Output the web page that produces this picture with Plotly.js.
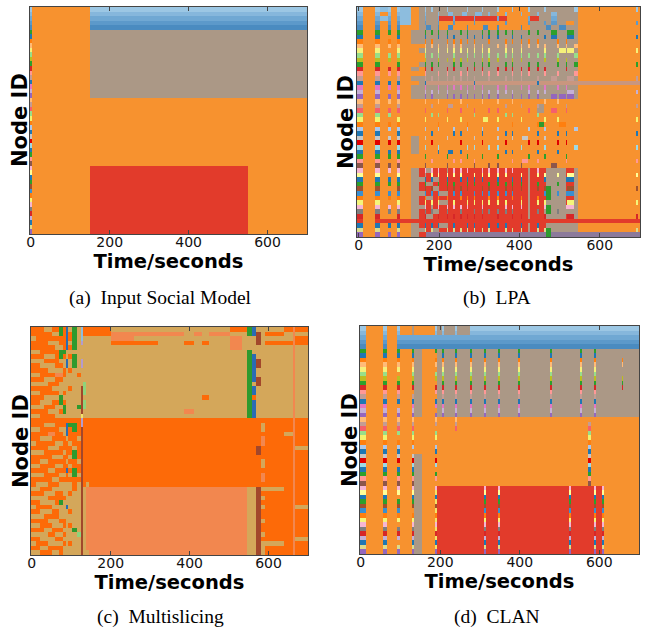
<!DOCTYPE html>
<html><head><meta charset="utf-8">
<script src="https://cdn.plot.ly/plotly-3.0.1.min.js"></script>
<style>html,body{margin:0;padding:0;background:#fff;} #chart{width:645px;height:629px;}</style>
</head><body><div id="chart"></div>
<script>
// community colours (character codes used in the row strings)
const communityColors = {O:'#F7922F', G:'#AB9886', R:'#E23B2B', B:'#C9967E', P:'#8C7A9B', L:'#8DBDDE',
  K:'#2E9A2E', T:'#D4A75A', F:'#FD6A08', M:'#F2874F', U:'#2B6CB3', N:'#A2472B', V:'#B59BCB', H:'#8ED37B', Y:'#F3E36A'};
// colour of a node when it forms its own community ('*' in the row strings)
const nodeColors = ['#9CC7E4','#86B7DC','#70A8D3','#5C99CA','#4A8BC0',
  '#2CA02C','#1F77B4','#FF7F0E','#FFBB78','#F5F07A','#98DF8A','#BCBD22','#2CA02C','#D62728','#FF9896','#C49C94','#1F77B4','#E377C2','#C5B0D5','#9467BD',
  '#FFBB78','#C49C94','#F4606C','#98DF8A','#F2F26E','#FF7F0E','#AEC7E8','#1F77B4','#C7C7C7','#E00000','#9EDAE5','#1F77B4','#2CA02C','#FF9896','#8C564B',
  '#F7B6D2','#FFFF99','#1F77B4','#2CA02C','#A0522D','#3A8FD0','#FF7F0E','#F5F57A','#F7B6D2','#7F7F7F','#D62728','#C5B0D5','#1F77B4','#DBDB8D','#9467BD'];
const nodeIds = [1,2,3,4,5,6,7,8,9,10,11,12,13,14,15,16,17,18,19,20,21,22,23,24,25,26,27,28,29,30,31,32,33,34,35,36,37,38,39,40,41,42,43,44,45,46,47,48,49,50];
const timeTicks = [0,200,400,600];

// (a) Input Social Model: time segment edges (s) and community per node per segment
const inputEdges = [-2,3,150,550,700];
const inputRows = [
 '*O**','*O**','*O**','*O**','*O**',
 '*OGG','*OGG','*OGG','*OGG','*OGG','*OGG','*OGG','*OGG','*OGG','*OGG','*OGG','*OGG','*OGG','*OGG','*OGG',
 '*OOO','*OOO','*OOO','*OOO','*OOO','*OOO','*OOO','*OOO','*OOO','*OOO','*OOO','*OOO','*OOO','*OOO','*OOO',
 '*ORO','*ORO','*ORO','*ORO','*ORO','*ORO','*ORO','*ORO','*ORO','*ORO','*ORO','*ORO','*ORO','*ORO','*ORO'];

// (b) LPA
const lpaEdges = [-4,10,42,54,72,80,96,104,130,150,
 164,168,180,184,197,201,219,223,235,239,
 252,256,269,273,286,290,306,310,323,327,
 344,348,364,368,381,385,403,407,422,426,
 444,448,461,465,479,494,498,515,519,537,546,
 690,695,700];
const lpaRows = [
 '*|O*L*O*LO|G*G*GGG*GG|GGG*GGG*GG|G*OOO*OOO*|GGG*GGGGGG*|O*O',
 '*|O*O*O*LO|G*GGG*GG*G|GG*GGG*GG*|GOO*OOO*OO|G*GGG*GGGGG|OOO',
 '*|O*L*O*LO|G*GGG*RRR*|RRRRR*RRRR|R*RROOOOO*|RRGGG*GGGGG|OOO',
 '*|O*O*O*LO|G*GGG*OOO*|OOOOO*OOOO|OOO*OOOOO*|GGG*G*GGOOG|O*O',
 '*|O*O*O*OO|GG*GG*OO*O|OOO*OOOO*O|O*OOOOO*OO|GGGG*GG*GGG|OOO',
 '*|O*O*O*OG|G*G*G*G*GG|G*G*GGG*G*|G*G*G*GGG*|G*GGG*GGG*G|OOO',
 '*|O*OOO*OG|G*GGG*G*G*|GGG*G*G*G*|G*GGG*G*GG|GGG*G*GGG*G|O*O',
 '*|O*O*O*OG|G*G*GGG*G*|G*G*G*GGG*|GGG*G*G*G*|G*GGGG*G*GG|OOO',
 '*|O*O*O*OO|O*G*G*G*G*|G*GGG*G*GG|G*G*GGG*G*|G*G*GG*G*G*|OOO',
 '*|O*OOO*OO|G*GGG*G*G*|G*G*G*G*G*|GGG*G*G*GG|GGG*GGG*G*G|O*O',
 '*|O*O*O*OO|O*G*G*GGG*|GGG*G*G*G*|G*G*G*G*G*|G*G*GG*GGG*|OOO',
 '*|O*O*O*OO|O*GGG*G*G*|G*G*GGG*G*|G*GGG*G*GG|GGG*GG*G*GG|OOO',
 '*|O*OOO*OO|G*G*G*GGG*|G*GGG*G*G*|GGG*G*GGG*|G*GGGG*G*G*|O*O',
 '*|O*O*O*OG|O*G*GGG*G*|GGG*G*G*GG|G*G*G*G*G*|G*G*GGGG*GG|OOO',
 '*|O*O*O*OO|O*GGG*G*GG|G*G*GGG*G*|G*GGG*G*G*|GGG*GG*GGG*|OOO',
 '*|O*OOO*OG|G*G*G*G*G*|G*G*G*GGG*|GGG*G*G*GG|G*GGG*GGG*G|O*O',
 '*|O*O*O*OO|G*BBBBBBBB|BBBBB*BBBB|BBBBBBBBBB|B*BBBBBBBBB|BBB',
 '*|O*O*O*OG|G*GGG*G*G*|G*G*G*G*GG|G*G*GGG*G*|GGG*GG*G*GG|OOO',
 '*|O*OOO*OG|G*G*G*G*GG|GGG*GGG*G*|G*G*G*GGG*|G*G*GGGGG*G|O*O',
 '*|O*O*O*OG|G*G*GGG*G*|G*G*G*G*G*|G*GGG*G*G*|G*GGG*G*G*G|OOO',
 '*|O*O*O*OO|O*OOO*OOOO|O*OOOOO*OO|O*OOO*OOOO|OOO*OO*OOOO|OOO',
 '*|O*OOO*OO|OOO*OOOO*O|OOO*OOOOOO|OOO*OOO*OO|O*GOOOOO*OO|O*O',
 '*|O*O*O*OO|O*OOOOO*OO|O*OOO*OOO*|O*OOOOOOO*|OGGOO*OO*OO|OOO',
 '*|O*O*OOOO|OOO*O*OOOO|OOOOO*OOOO|OOO*O*OOOO|O*OOOOOOOOO|OOO',
 '*|O*OOO*OO|O*OOOOO*OO|O*OOOOOO*O|O*OOOOO*OO|OOO*OO*OOOO|O*O',
 '*|O*O*O*OO|OOOOO*OOOO|OOO*OOOOOO|OOOOO*OOOO|O*KOOOO*OOO|OOO',
 '*|O*O*O*OO|O*OOO*OOO*|OOO*OOO*OO|O*OOOOOOO*|OOO*OOOOOO*|OOO',
 '*|O*OOO*OO|OOO*OOOOO*|O*OOOOO*OO|OOO*O*OOOO|O*OOOO*O*OO|O*O',
 '*|O*O*O*OG|O*OOOOO*OO|OOOOO*OOOO|O*OOO*OO*O|OOO*OOOOOOO|OOO',
 '*|O*O*O*OG|OOO*OOOOOO|O*OOOOO*OO|OOO*OOOOO*|O*OOOO*O*OO|OOO',
 '*|O*OOO*OG|O*OOO*OOOO|OOO*O*OOO*|O*OOOOO*OO|OOO*OOOOOO*|O*O',
 '*|O*O*O*OG|OOOOO*OO*O|O*OOOOOOOO|OOO*O*OOOO|O*OOOO*OOOO|OOO',
 '*|O*O*O*OO|O*OOOOO*OO|OOO*OOO*OO|O*OOOOOOO*|OOO*OOOO*OO|OOO',
 '*|O*OOO*OO|OOO*OOOOO*|O*OOO*OOOO|OOOOO*OO*O|O*OOOOOO*OO|O*O',
 '*|O*O*O*OO|O*OOOOO*OO|OOOOO*OOO*|O*OOOOO*OO|OOOOO*OOOOO|OOO',
 '*|O*O*O*OG|R*G*R*RGR*|R*R*RRR*R*|R*R*R*RRRG|R*RRGGGGRRG|OOO',
 '*|O*OOO*OG|RGR*R*R*R*|R*RRR*R*R*|R*R*RRR*RG|R*R*GG*GR*G|O*O',
 '*|O*O*O*OG|G*R*GGR*RR|R*R*R*R*RR|R*RRR*R*RG|RRR*GGGG**G|OOO',
 '*|O*O*O*OG|R*GGR*R*R*|RRR*R*RRR*|R*R*R*R*RG|R*RRGG*GRRG|OOO',
 '*|O*OOO*OG|R*R*GGR*R*|R*R*RRR*R*|RRR*R*R*RG|R*R*KGGGR*G|O*O',
 '*|O*O*O*OG|G*R*R*GGR*|R*RRR*R*R*|R*R*R*RRRG|RRR*KG*G**G|OOO',
 '*|O*O*O*OG|R*GGR*R*RR|R*R*R*RRR*|R*RRR*R*RG|R*RRKGGGRRG|OOO',
 '*|O*OOO*OG|R*R*R*GGR*|RRR*R*R*R*|R*R*RRR*RG|R*R*GGGGR*G|O*O',
 '*|O*O*O*OG|G*RGR*R*R*|R*R*RRR*RR|RRR*R*R*RG|RRR*KGGG**G|OOO',
 '*|O*O*O*OG|R*R*GGR*RR|R*RRR*R*R*|R*R*R*RRRG|R*RGKG*GGGG|OOO',
 '*|O*OOO*OG|R*GGR*R*R*|R*R*R*R*RR|R*RRR*R*RG|RRR*GGGGR*G|O*O',
 'R|ORRRRRRR|RRRRRRRRRR|RRRRRRRRRR|RRRRRRRRRR|RRRRRRRRRRR|RRR',
 '*|O*O*O*OG|R*R*R*GGR*|RRR*R*RRR*|R*R*RRR*RG|R*RRGGGGGGG|OOO',
 '*|O*OOO*OG|G*R*GGR*R*|R*R*R*R*R*|RRR*R*R*RG|R*R*KGGGGGG|O*O',
 '*|O*O*O*OG|RRPPPPPPPP|PPPPPPPPPP|PPPPPPPPPP|PPPPKPPPPPP|PPP'];

// (c) Multislicing
const msEdges = [-2,10,20,30,40,50,60,70,80,87,
 92,102,115,124,129,138,145,
 200,260,320,386,410,432,450,503,533,546,
 558,568,580,592,640,662,668,700];
const msRows = [
 'FFFTTFFKFU|TKTLFF|FTTTTTTTFF|KUTTTFMF',
 'FFFFFTTKFU|FKTLFF|FMMMTMTMTT|KUNTFTMT',
 'TFFFFFFFFU|FKTLTT|TMTTTTTTMT|TTNTTTMF',
 'FFFFTTTFFU|TKTVTT|TFFTFTFTMT|TTNTFFMF',
 'FFFFFFTTFU|FKTTTT|TTTTTTTTMT|TTTTTTMT',
 'TTFFFFFKKT|TTTTTT|TTTTTTTTTT|KTTTTTMT',
 'FFFTTTFKFT|FKTTTT|TTTTTTTTTT|KUTTTTMT',
 'TTTFFFFTTU|TKTVTT|TTTTTTTTTT|KUNTTTMT',
 'FFTTTTFFTU|TKTVTT|TTTTTTTTTT|KUNTTTMT',
 'FFFFTTTTFT|FTTTTT|TTTTTTTTTT|KUTTTTMT',
 'TTFFFFMMFT|TTFTTT|TTTTTTTTTT|KUTTTTMT',
 'FFFTTTFFTT|TTTTTT|TTTTTTTTTT|KUNTTTMT',
 'TTTTFFFTTT|TTTTHT|TTTTTTTTTT|KTNTTTMT',
 'FFFFFTTTTT|FTTNHT|TTTTTTTTTT|KUTTTTMT',
 'TTFFFFFTFT|TTTNHT|TTTTTTTTTT|KUTTTTMT',
 'FFFTTTTKTT|TTTNTT|TTTTTTFTTT|KFTTTTMT',
 'FFTTTFFKFT|TTTNHT|TTTTTTTTTT|KUTTTTMT',
 'TTTFFFTTKT|TTKNHT|TTTTTTTTTT|KUTTTTMT',
 'FFFFTTTFKT|TTTNTT|TTTTMTTTTT|KUTTTTMT',
 'TTFFFFTTTT|TTTYTT|TTTTTTTTTT|KUTTTTMT',
 'FFFFFFFFFF|FFFVFF|FFFFFFFFFF|FFFFFFMF',
 'FFFTTTFFFU|KKFVFF|FFFFFFFFFF|FFFTFFMF',
 'TTFFFFFTTU|FKFNFF|FFFFFFFFFF|FFFTFFMF',
 'FFFFMMFFTU|FFFNFF|FFFFFFFFFF|FFFFFTMF',
 'FFTTTFFFFT|FFTNFF|FFFFFFFFFF|FFFMFFMF',
 'TFFFFFTTFF|TFFNFF|FFFFFFFFFF|FFFMFFMF',
 'FFFFTTTFFF|FTFNFF|FFFFFFFFFF|FFNFFFMT',
 'TTTFFFFFTF|FKFNFF|FFFFFFFFFF|FFNFFFMF',
 'FFFFFTTTFF|TKFNFF|FFFFFFFFFF|FFFFFFMF',
 'FFTTFFFFFT|FFTNFF|FFFFFFFFFF|FFFTFFMF',
 'TTFFFFTTFF|TFFNFF|FFFFFFFFFF|FFFTFFMF',
 'FFFFTTFFFU|FKFNFF|FFFFFFFFFF|FFFFFFMF',
 'TTTFFFFTTF|TKTNFF|FFFFFFFFFF|FFFMFFMF',
 'FFFFFTTFFF|FFFNFF|FFFFFFFFFF|FFFMFFMF',
 'FTTTFFFTTT|TFTNFT|FFFFFFFFFF|FFFFFFMF',
 'TTFFFTTTTT|TFTNTM|MMMMMMMMMM|TTNTTFMF',
 'FFFTTTFFTT|FTTNTM|MMMMMMMMMM|TTNFFFMF',
 'TTTTFFFFFT|TTTNTM|MMMMMMMMMM|TTNTFFMF',
 'FFTTTTFKTT|TTTNTM|MMMMMMMMMM|TTNFFFMF',
 'TFFFFTTTTU|TTTNTM|MMMMMMMMMM|TTNTFFMT',
 'FFTTTFFTTT|FTTNTM|MMMMMMMMMM|TTNFFFMF',
 'TTTFFFFTTT|TTTNTM|MMMMMMMMMM|TTNFFFMF',
 'FFFFTTTFFT|TTTNTM|MMMMMMMMMM|TTNTFFMF',
 'TTFFFTTTFT|FTTNTM|MMMMMMMMMM|TTNFFFMF',
 'FFFTTFFFTT|TKTNTM|MMMMMMMMMM|TTNFFFMF',
 'TTTTFFTTFT|TTHNTM|MMMMMMMMMM|TTNTFFMF',
 'FFTTTTFFTT|TTTNTM|MMMMMMMMMM|TTNFFFMT',
 'TFFFTTTTFT|FTTNTM|MMMMMMMMMM|TTNTTFMF',
 'FFTTFFFFTT|TTTNTM|MMMMMMMMMM|TTNTFFMF',
 'TTFFFTTFTT|TTTNTT|MMMMMMMMMM|TTNTFFMF'];

// (d) CLAN
const clanEdges = [-2,12,57,66,91,98,128,133,153,187,192,
 205,210,238,243,276,281,309,314,346,351,
 396,401,476,481,524,530,552,557,572,578,
 586,591,607,612,656,660,700];
const clanRows = [
 '*|O*O*OGOO*|G*G*G*****|**********|*******',
 '*|O*O*OGOO*|G*G*G*****|**********|*******',
 '*|O*O******|**********|**********|*******',
 '*|O*O******|**********|**********|*******',
 '*|O*O******|**********|**********|*******',
 '*|O*O*O*GO*|G*G*G*G*G*|G*G*GGG*GG|G*GGGGG',
 '*|O*O*O*GOO|G*G*G*G*G*|G*G*GGG*GG|G*GGGGG',
 '*|O*O*O*GO*|G*G*G*G*G*|G*G*GGG*GG|G*GGG*G',
 '*|O*O*O*GO*|G*G*G*G*G*|G*G*GGG*GG|G*GGG*G',
 '*|O*O*O*GOO|G*G*G*G*G*|G*G*GGG*GG|G*GGGGG',
 '*|O*OOO*GO*|G*G*G*G*G*|G*G*GGG*GG|G*GGGGG',
 '*|O*O*O*GO*|G*G*G*G*G*|G*G*GGG*GG|G*GGG*G',
 '*|O*O*O*GOO|G*G*G*G*G*|G*G*GGG*GG|G*GGG*G',
 '*|O*O*O*GO*|G*G*G*G*G*|G*G*GGG*GG|G*GGG*G',
 '*|O*O*OOGO*|G*G*G*G*G*|G*G*GGG*GG|G*GGGGG',
 '*|O*O*O*GOO|G*G*G*G*G*|G*G*GGG*GG|G*GGGGG',
 '*|O*O*O*GO*|G*G*G*G*G*|G*G*GGG*GG|G*GGGGG',
 '*|O*OOO*GO*|G*G*G*G*G*|G*G*GGG*GG|G*GGGGG',
 '*|O*O*O*GOO|G*G*G*G*G*|G*G*GGG*GG|G*GGGGG',
 '*|O*O*O*GO*|G*G*G*G*G*|G*G*GGG*GG|G*GGGGG',
 '*|O*O*O*OO*|OOO*OOOOOO|OOOOOOOOOO|OOOOOOO',
 '*|O*O*O*OO*|OOO*OOOOOO|OOOOOOOOO*|OOOOOOO',
 '*|O*O*O*OOO|OOO*OOOOOO|OOOOOOOOO*|OOOOOOO',
 '*|O*O*O*OO*|OOOOOOOOOO|OOOOOOOOO*|OOOOOOO',
 '*|O*OOO*OO*|OOOOOOOOOO|OOOOOOOOO*|OOOOOOO',
 '*|O*O*O*OOO|OOOOOOOOOO|OOOOOOOOO*|OOOOOOO',
 '*|O*O*O*OO*|OOOOOOOOOO|OOOOOOOOO*|OOOOOOO',
 '*|O*O*OOOO*|OOOOOOOOOO|OOOOOOOOO*|OOOOOOO',
 '*|O*O*O*GOO|OOOOOOOOOO|OOOOOOOOO*|OOOOOOO',
 '*|O*O*O*GO*|OOOOOOOOOO|OOOOOOOOO*|OOOOOOO',
 '*|O*OOO*GO*|OOOOOOOOOO|OOOOOOOOO*|OOOOOOO',
 '*|O*O*O*GOO|OOOOOOOOOO|OOOOOOOOO*|OOOOOOO',
 '*|O*O*O*GO*|OOOOOOOOOO|OOOOOOOOO*|OOOOOOO',
 '*|O*O*O*GO*|OOOOOOOOOO|OOOOOOOOO*|OOOOOOO',
 '*|O*O*O*GOO|OOOOOOOOOO|OOOOOOOOO*|OOOOOOO',
 '*|O*O*O*GO*|RRRRRRR*R*|RRRRR*RRRR|R*R*OOO',
 '*|O*O*O*GOY|RRRRRRR*R*|RRRRR*RRRR|R*R*OOO',
 '*|O*OOO*GO*|RRRRRRR*R*|RRRRR*RRRR|R*R*OOO',
 '*|O*O*O*GOY|RRRRRRR*R*|RRRRR*RRRR|R*R*OOO',
 '*|O*O*O*GO*|RRRRRRR*R*|RRRRR*RRRR|R*R*OOO',
 '*|O*O*OOGOY|RRRRRRR*R*|RRRRR*RRRR|R*R*OOO',
 '*|O*O*O*GO*|RRRRRRR*R*|RRRRR*RRRR|R*R*OOO',
 '*|O*O*O*GOY|RRRRRRR*R*|RRRRR*RRRR|R*R*OOO',
 '*|O*OOO*GO*|RRRRRRR*R*|RRRRR*RRRR|R*R*OOO',
 '*|O*O*O*GOY|RRRRRRR*R*|RRRRR*RRRR|R*R*OOO',
 '*|O*O*O*GO*|RRRRRRR*R*|RRRRR*RRRR|R*R*OOO',
 '*|O*O*O*GOY|RRRRRRR*R*|RRRRR*RRRR|R*R*OOO',
 '*|O*OOO*GO*|RRRRRRR*R*|RRRRR*RRRR|R*R*OOO',
 '*|O*O*O*GOY|RRRRRRR*R*|RRRRR*RRRR|R*R*OOO',
 '*|O*O*O*GO*|RRRRRRR*R*|RRRRR*RRRR|R*R*OOO'];

const captions = ['(a)\u00a0 Input Social Model', '(b)\u00a0 LPA', '(c)\u00a0 Multislicing', '(d)\u00a0 CLAN'];

// ---- build ----
const codes = Object.keys(communityColors);
const allColors = codes.map(k => communityColors[k]).concat(nodeColors);
const nC = allColors.length;
const colorscale = [];
allColors.forEach((c, i) => { colorscale.push([i / nC, c]); colorscale.push([(i + 1) / nC, c]); });

function toZ(rows, edges) {
  const nseg = edges.length - 1;
  return rows.map((r, ri) => {
    const s = r.replace(/\|/g, '');
    if (s.length !== nseg) throw new Error('row ' + ri + ' has ' + s.length + ' segments, expected ' + nseg);
    return s.split('').map(ch => {
      const k = ch === '*' ? codes.length + ri : codes.indexOf(ch);
      if (k < 0) throw new Error('bad code ' + ch);
      return k + 0.5;
    });
  });
}

const panels = [
  {edges: inputEdges, rows: inputRows, xmin: -2, dom: [[30,307],[7,234]], ylab: [20,120]},
  {edges: lpaEdges, rows: lpaRows, xmin: -4, dom: [[357,640],[7,237]], ylab: [346,122]},
  {edges: msEdges, rows: msRows, xmin: -2, dom: [[31,308],[327,555]], ylab: [21,441]},
  {edges: clanEdges, rows: clanRows, xmin: -2, dom: [[360,639],[326,554]], ylab: [350,440]}
];
const W = 645, H = 629;
const data = [];
const layout = {width: W, height: H, margin: {l:0, r:0, t:0, b:0}, paper_bgcolor: '#fff', plot_bgcolor: '#fff', showlegend: false, annotations: []};
const captionPos = [[160,298],[497,298],[160,617],[497,617]];

panels.forEach((p, i) => {
  const sfx = i === 0 ? '' : String(i + 1);
  data.push({type: 'heatmap', x: p.edges, y: nodeIds, z: toZ(p.rows, p.edges), colorscale: colorscale,
    zmin: 0, zmax: nC, showscale: false, hoverinfo: 'skip', xaxis: 'x' + sfx, yaxis: 'y' + sfx});
  layout['xaxis' + sfx] = {domain: [p.dom[0][0] / W, p.dom[0][1] / W], anchor: 'y' + sfx, range: [p.xmin, 700],
    tickvals: timeTicks, ticktext: timeTicks.map(String), ticks: 'inside', ticklen: 4, tickcolor: '#444',
    ticklabelstandoff: -5,
    showline: true, linecolor: '#444', linewidth: 1, mirror: 'ticks', showgrid: false, zeroline: false,
    tickfont: {family: 'DejaVu Sans', size: 14, color: '#111'},
    title: {text: '<b>Time/seconds</b>', font: {family: 'DejaVu Sans', size: 19.5, color: '#000'}, standoff: 1}};
  layout['yaxis' + sfx] = {domain: [1 - p.dom[1][1] / H, 1 - p.dom[1][0] / H], anchor: 'x' + sfx, range: [50.5, 0.5],
    showticklabels: false, ticks: '', showline: true, linecolor: '#444', linewidth: 1, mirror: true,
    showgrid: false, zeroline: false};
  layout.annotations.push({xref: 'paper', yref: 'paper', x: p.ylab[0] / W, y: 1 - p.ylab[1] / H,
    xanchor: 'center', yanchor: 'middle', showarrow: false, textangle: -90, text: '<b>Node ID</b>',
    font: {family: 'DejaVu Sans', size: 21, color: '#000'}});
  layout.annotations.push({xref: 'paper', yref: 'paper', x: captionPos[i][0] / W, y: 1 - captionPos[i][1] / H,
    xanchor: 'center', yanchor: 'middle', showarrow: false, text: captions[i],
    font: {family: 'Liberation Serif', size: 19.5, color: '#000'}});
});

Plotly.newPlot('chart', data, layout, {staticPlot: true, displayModeBar: false});
</script>
</body></html>
